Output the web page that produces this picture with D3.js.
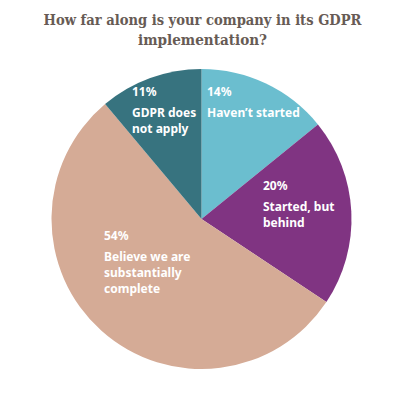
<!DOCTYPE html>
<html>
<head>
<meta charset="utf-8">
<script src="https://cdn.jsdelivr.net/npm/d3@7"></script>
<style>
  body { margin: 0; background: #fff; }
  svg { display: block; }
</style>
</head>
<body>
<script>
// survey answers, clockwise from 12 o'clock
var categories = ["Haven\u2019t started", "Started, but behind", "Believe we are substantially complete", "GDPR does not apply"];
var values = [14, 20, 54, 11];
var labelLines = [
    ["Haven\u2019t started"],
    ["Started, but", "behind"],
    ["Believe we are", "substantially", "complete"],
    ["GDPR does", "not apply"]
];
var colors = ["#6bbecf", "#803482", "#d5ab96", "#37737f"];
var titleLines = ["How far along is your company in its GDPR", "implementation?"];

// left edge / top baseline of each label block, relative to pie centre
var labelPos = [[5.5, -123], [61.5, -29], [-97.5, 21], [-69.5, -123]];
// rendered widths of the two title lines
var titleWidths = [318, 129];

var w = 395, h = 395;
var cx = 201.5, cy = 219, r = 150;

var svg = d3.select("body").append("svg")
    .attr("width", w)
    .attr("height", h);

svg.append("g")
    .selectAll("text")
    .data(titleLines)
    .enter()
    .append("text")
    .attr("x", 202.5)
    .attr("y", function(d, i) { return 25 + i * 20; })
    .attr("text-anchor", "middle")
    .attr("fill", "#675b55")
    .attr("font-family", "'DejaVu Serif', serif")
    .attr("font-weight", "bold")
    .attr("font-size", "14.5px")
    .attr("textLength", function(d, i) { return titleWidths[i]; })
    .attr("lengthAdjust", "spacingAndGlyphs")
    .text(function(d) { return d; });

var pie = d3.pie().sort(null).value(function(d) { return d; });
var arc = d3.arc().innerRadius(0).outerRadius(r);

var g = svg.append("g").attr("transform", "translate(" + cx + "," + cy + ")");

var slices = pie(values);

g.selectAll("path")
    .data(slices)
    .enter()
    .append("path")
    .attr("d", arc)
    .attr("fill", function(d, i) { return colors[i]; });

var labels = g.selectAll("g.label")
    .data(slices)
    .enter()
    .append("g")
    .attr("class", "label")
    .attr("transform", function(d, i) { return "translate(" + labelPos[i][0] + "," + labelPos[i][1] + ")"; })
    .attr("fill", "#fff")
    .attr("font-family", "'Noto Sans', sans-serif")
    .attr("font-weight", "bold")
    .attr("font-size", "12px");

labels.append("text")
    .text(function(d) { return d.data + "%"; });

labels.each(function(d, i) {
    d3.select(this).selectAll("text.line")
        .data(labelLines[i])
        .enter()
        .append("text")
        .attr("class", "line")
        .attr("y", function(t, j) { return 21 + j * 16; })
        .text(function(t) { return t; });
});
</script>
</body>
</html>
